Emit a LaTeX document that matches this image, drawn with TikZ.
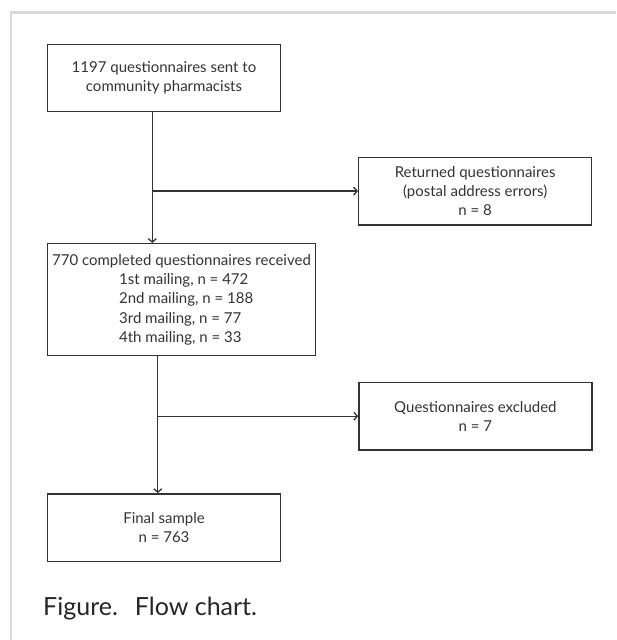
\documentclass[tikz,border=0pt]{standalone}
\usepackage{fontspec}
\setmainfont{Lato}
\usepackage{xcolor}
\usetikzlibrary{positioning,arrows.meta}
\definecolor{ink}{HTML}{333333}
\definecolor{framegray}{HTML}{D9D9D9}

\begin{document}
\begin{tikzpicture}[x=1pt, y=-1pt,
  blk/.style={draw=ink, line width=1.4pt, minimum width=233pt,
              minimum height=67.4pt, inner sep=0pt, align=center,
              text=ink, font=\fontsize{15}{19.3}\selectfont},
  arr/.style={-{Straight Barb[length=3.5pt,width=8pt]}, draw=ink, line width=1.3pt},
  captxt/.style={font=\fontsize{25}{29}\selectfont, text=black!85, inner sep=0pt},
]
  \useasboundingbox (0,0) rectangle (616,640);
  \draw[framegray, line width=2.5pt] (11,640) -- (11,12.7) -- (616,12.7);

  \node[blk] (sent) at (164,78)
    {1197 questionnaires sent to\\community pharmacists};
  \node[blk, below right=44.3pt and 76.8pt of sent.south east] (returned)
    {Returned questionnaires\\(postal address errors)\\n = 8};
  \node[blk, align=left, minimum width=268pt, minimum height=111.7pt,
        below right=130.6pt and 0pt of sent.south west] (received)
    {770 completed questionnaires received\\
     \hspace*{67pt}1st mailing, n = 472\\
     \hspace*{67pt}2nd mailing, n = 188\\
     \hspace*{67pt}3rd mailing, n = 77\\
     \hspace*{67pt}4th mailing, n = 33};
  \node[blk, below right=25.7pt and 42pt of received.south east] (excluded)
    {Questionnaires excluded\\n = 7};
  \node[blk, below right=137pt and 0pt of received.south west] (final)
    {Final sample\\n = 763};

  \coordinate (s1) at (152.3,0);
  \coordinate (s2) at (157.8,0);
  \draw[arr] (sent.south -| s1) -- (received.north -| s1);
  \draw[arr] (s1 |- returned.west) -- (returned.west);
  \draw[arr] (received.south -| s2) -- (final.north -| s2);
  \draw[arr] (s2 |- excluded.west) -- (excluded.west);

  \node[captxt, anchor=base west] (caption) at (43,615)
    {Figure.\hspace{17pt}Flow chart.};
\end{tikzpicture}
\end{document}
